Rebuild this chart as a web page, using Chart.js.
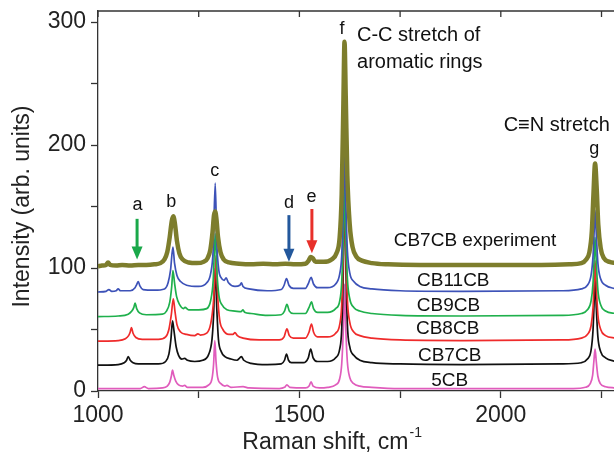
<!DOCTYPE html>
<html>
<head>
<meta charset="utf-8">
<script src="https://cdn.jsdelivr.net/npm/chart.js@4.4.1/dist/chart.umd.min.js"></script>
<style>
  body { margin: 0; background: #fff; }
  #wrap { width: 614px; height: 456px; position: relative; }
</style>
</head>
<body>
<div id="wrap"><canvas id="chart"></canvas></div>
<script>
// Raman spectra, [shift cm-1, intensity] (curves offset by ~20)
const spec5CB = [[1000,2],[1050,2],[1105,2],[1115,3.5],[1125,2],[1160,2.5],[1172,4],[1178,7],[1182,12],[1185,17],[1188,13],[1193,8],[1200,5],[1210,4],[1215,4.5],[1222,3],[1260,3],[1275,5],[1283,10],[1287,22],[1290,41],[1293,24],[1297,11],[1305,6],[1315,4],[1320,4.5],[1330,3],[1360,3.5],[1375,2.5],[1450,2],[1463,3],[1469,5],[1476,3],[1515,2.5],[1524,4],[1529,7.5],[1534,4],[1550,2.5],[1570,3],[1590,5],[1600,10],[1605,22],[1609,50],[1612,87],[1615,52],[1619,24],[1625,11],[1635,6],[1650,4],[1680,3],[1750,2],[2180,2],[2210,3],[2222,6],[2228,13],[2231,24],[2234,34],[2237,24],[2241,12],[2247,6],[2260,3.5],[2285,2.5]];

const specCB7CB = [[1000,21],[1050,21.5],[1065,23],[1071,25],[1075,28],[1080,25],[1087,23],[1100,22],[1150,22],[1168,24],[1176,30],[1181,42],[1185,57],[1189,48],[1194,36],[1200,29],[1208,26],[1215,26.5],[1222,25],[1240,24],[1260,25],[1275,30],[1283,42],[1287,62],[1291,100],[1295,66],[1299,42],[1306,32],[1315,28],[1330,26],[1345,25],[1352,27],[1356,28],[1362,25],[1380,22.5],[1420,21.5],[1455,22],[1463,25],[1468,30],[1473,25],[1480,23],[1510,23],[1522,27],[1528,34],[1534,27],[1545,24],[1570,24],[1590,27],[1600,34],[1605,50],[1609,100],[1612,191],[1615,110],[1619,55],[1625,36],[1635,29],[1650,25],[1680,23],[1750,22],[1900,21.5],[2150,22],[2200,23],[2215,26],[2224,33],[2229,50],[2232,75],[2234,92],[2237,68],[2241,44],[2248,32],[2260,27],[2285,24]];

const specCB8CB = [[1000,40.5],[1050,41],[1068,42.5],[1076,45],[1080,48],[1083,51.5],[1087,47],[1094,43.5],[1110,42],[1150,42],[1168,44],[1176,50],[1182,62],[1187,75],[1191,65],[1196,54],[1205,48],[1220,46],[1240,45],[1248,46.5],[1254,45.5],[1270,47],[1280,55],[1286,70],[1290,90],[1293,110],[1297,78],[1302,58],[1310,50],[1325,46],[1335,46],[1340,47.5],[1346,45],[1360,43],[1400,41.5],[1450,41.5],[1462,44],[1469,50.5],[1475,45],[1485,43],[1515,43],[1524,48],[1530,54.5],[1535,48],[1545,44],[1570,44],[1590,47],[1600,54],[1605,70],[1609,115],[1612,185],[1615,120],[1619,75],[1625,56],[1635,48],[1650,45],[1680,43],[1750,41.5],[1900,41],[2150,41.5],[2200,43],[2215,46],[2224,53],[2229,68],[2232,90],[2234,106],[2237,85],[2241,62],[2248,50],[2260,45],[2285,43]];

const specCB9CB = [[1000,60.5],[1050,61],[1075,62.5],[1084,65],[1089,68],[1092,71.5],[1096,67],[1103,63.5],[1120,62],[1160,62.5],[1170,65],[1178,72],[1183,85],[1186,98],[1190,88],[1195,77],[1203,70],[1212,67],[1216,68],[1225,66],[1250,66],[1270,67],[1280,74],[1286,90],[1291,128],[1295,98],[1300,78],[1308,70],[1320,66],[1340,65],[1355,64.5],[1360,66],[1364,64],[1380,63],[1420,61.5],[1455,62],[1463,65],[1469,70.5],[1475,65],[1485,63],[1515,63],[1524,68],[1530,72.5],[1535,67],[1545,64],[1570,64],[1590,67],[1600,73],[1605,88],[1609,125],[1612,165],[1615,130],[1619,92],[1625,75],[1635,68],[1650,65],[1680,63],[1750,61.5],[1900,61],[2150,61.5],[2200,63],[2215,66],[2224,73],[2229,88],[2232,110],[2234,125],[2237,105],[2241,82],[2248,70],[2260,65],[2285,63]];

const specCB11CB = [[1000,80.5],[1020,81],[1027,82.5],[1034,81],[1045,81.5],[1050,83],[1056,81.5],[1080,81.5],[1092,84],[1096,86.5],[1100,89],[1104,85.5],[1112,82.5],[1140,82],[1165,83],[1174,88],[1180,98],[1186,117],[1190,104],[1196,94],[1205,89],[1220,86],[1250,85],[1270,88],[1280,96],[1286,115],[1291,169],[1295,120],[1300,98],[1306,92],[1313,90],[1318,92],[1324,88],[1340,85],[1352,86],[1356,88],[1360,85],[1375,83],[1420,81.5],[1455,82.5],[1462,86],[1468,91.5],[1474,86],[1485,83.5],[1515,83.5],[1523,88],[1529,92.5],[1535,87],[1545,84],[1570,84],[1590,87],[1600,95],[1605,110],[1609,150],[1612,195],[1615,155],[1619,115],[1625,96],[1635,89],[1650,85],[1680,83],[1750,81.5],[1900,81],[2150,81.5],[2200,83],[2215,86],[2224,94],[2229,110],[2232,132],[2234,147],[2237,128],[2241,104],[2248,91],[2260,86],[2285,83]];

const specExp = [[1000,101.5],[1010,102],[1020,102.5],[1025,104.5],[1030,102.5],[1045,102],[1060,102.5],[1080,102],[1100,102.5],[1120,102.5],[1140,103],[1155,104],[1165,107],[1172,113],[1178,125],[1183,138],[1187,142],[1191,136],[1196,122],[1202,112],[1210,107],[1225,104.5],[1245,104],[1262,105],[1272,108],[1279,115],[1284,128],[1288,143],[1291,146],[1294,140],[1298,125],[1304,113],[1312,107],[1325,104.5],[1350,103.5],[1380,103],[1410,103.5],[1440,103],[1465,103.5],[1490,103],[1515,103.5],[1523,106],[1528,109],[1533,108],[1540,105],[1560,105],[1580,107],[1592,112],[1600,125],[1605,160],[1609,230],[1612,284],[1615,240],[1619,175],[1625,135],[1632,117],[1642,109],[1655,106],[1680,104],[1720,103],[1800,102.5],[1900,102.5],[2000,102.5],[2100,102.5],[2170,103],[2200,104],[2212,107],[2220,113],[2226,130],[2230,160],[2234,185],[2238,165],[2242,135],[2248,116],[2256,108],[2270,105],[2285,104]];

const xTicks = [1000, 1250, 1500, 1750, 2000, 2250];
const xLabels = [1000, 1500, 2000];
const yTicks = [0, 50, 100, 150, 200, 250, 300];
const yLabels = [0, 100, 200, 300];

// series names sit next to their curves: [text, x, y]
const curveNames = [
  ['CB7CB experiment', 1936, 122.5],
  ['CB11CB', 1882, 90],
  ['CB9CB', 1870, 69.5],
  ['CB8CB', 1868, 50.5],
  ['CB7CB', 1873, 29],
  ['5CB', 1873, 8.5]
];
// peak letters: [letter, x, y]
const peakLetters = [
  ['a', 1098, 151], ['b', 1182, 153.5], ['c', 1290, 179],
  ['d', 1474, 152.5], ['e', 1530, 157.5], ['f', 1606, 294.5], ['g', 2232, 197]
];
// arrows: [x, yTop, yTip, colour]
const arrows = [
  [1097, 140, 107, '#1aa84a'],
  [1474, 143, 105, '#23589c'],
  [1531, 148, 112, '#e8302a']
];

const FONT = '"Liberation Sans", Arial, sans-serif';

function toXY(arr) {
  return arr.map(p => ({ x: p[0], y: p[1] }));
}

function makeSet(label, arr, color, width) {
  return {
    label: label,
    data: toXY(arr),
    borderColor: color,
    borderWidth: width,
    pointRadius: 0,
    fill: false,
    cubicInterpolationMode: 'monotone'
  };
}

// text, arrows, top frame and axis titles
const decorPlugin = {
  id: 'decor',
  afterDatasetsDraw(chart) {
    const ctx = chart.ctx;
    const xs = chart.scales.x;
    const ys = chart.scales.y;
    const area = chart.chartArea;
    ctx.save();

    // top frame line with inward ticks
    ctx.strokeStyle = '#333';
    ctx.lineWidth = 1.3;
    ctx.beginPath();
    ctx.moveTo(area.left, area.top);
    ctx.lineTo(area.right, area.top);
    xTicks.forEach(v => {
      const px = xs.getPixelForValue(v);
      ctx.moveTo(px, area.top);
      ctx.lineTo(px, area.top + 6);
    });
    ctx.stroke();

    ctx.fillStyle = '#111';
    ctx.textAlign = 'center';
    ctx.textBaseline = 'middle';

    ctx.font = '19px ' + FONT;
    curveNames.forEach(n => {
      ctx.fillText(n[0], xs.getPixelForValue(n[1]), ys.getPixelForValue(n[2]));
    });

    ctx.font = '18px ' + FONT;
    peakLetters.forEach(l => {
      ctx.fillText(l[0], xs.getPixelForValue(l[1]), ys.getPixelForValue(l[2]));
    });

    ctx.font = '20px ' + FONT;
    ctx.textAlign = 'left';
    ctx.fillText('C-C stretch of', xs.getPixelForValue(1643), ys.getPixelForValue(289));
    ctx.fillText('aromatic rings', xs.getPixelForValue(1643), ys.getPixelForValue(267.5));
    ctx.fillText('C\u2261N stretch', xs.getPixelForValue(2007), ys.getPixelForValue(216));

    arrows.forEach(a => {
      const px = xs.getPixelForValue(a[0]);
      const top = ys.getPixelForValue(a[1]);
      const tip = ys.getPixelForValue(a[2]);
      ctx.strokeStyle = a[3];
      ctx.fillStyle = a[3];
      ctx.lineWidth = 3;
      ctx.beginPath();
      ctx.moveTo(px, top);
      ctx.lineTo(px, tip - 10);
      ctx.stroke();
      ctx.beginPath();
      ctx.moveTo(px - 5.5, tip - 13);
      ctx.lineTo(px + 5.5, tip - 13);
      ctx.lineTo(px, tip);
      ctx.closePath();
      ctx.fill();
    });

    // axis titles
    ctx.fillStyle = '#222';
    ctx.font = '23px ' + FONT;
    const main = 'Raman shift, cm';
    const w1 = ctx.measureText(main).width;
    ctx.font = '14px ' + FONT;
    const w2 = ctx.measureText('-1').width;
    const cx = xs.getPixelForValue(1580);
    const startX = cx - (w1 + w2) / 2;
    const ty = area.bottom + 52;
    ctx.textAlign = 'left';
    ctx.font = '23px ' + FONT;
    ctx.fillText(main, startX, ty);
    ctx.font = '14px ' + FONT;
    ctx.fillText('-1', startX + w1 + 1, ty - 10);

    ctx.translate(area.left - 75, ys.getPixelForValue(150));
    ctx.rotate(-Math.PI / 2);
    ctx.textAlign = 'center';
    ctx.font = '23px ' + FONT;
    ctx.fillText('Intensity (arb. units)', 0, 0);
    ctx.restore();
  }
};

const config = {
  type: 'line',
  data: {
    datasets: [
      makeSet('CB7CB experiment', specExp, '#7d7d2c', 4.5),
      makeSet('CB11CB', specCB11CB, '#3d52b8', 1.7),
      makeSet('CB9CB', specCB9CB, '#1fb04c', 1.7),
      makeSet('CB8CB', specCB8CB, '#ef2b2b', 1.7),
      makeSet('CB7CB', specCB7CB, '#111111', 1.7),
      makeSet('5CB', spec5CB, '#e05cbc', 1.7)
    ]
  },
  options: {
    responsive: true,
    maintainAspectRatio: false,
    animation: false,
    layout: { padding: { top: 11, right: 0, left: 0, bottom: 0 } },
    plugins: { legend: { display: false }, tooltip: { enabled: false } },
    scales: {
      x: {
        type: 'linear',
        min: 1000,
        max: 2281,
        afterBuildTicks: axis => { axis.ticks = xTicks.map(v => ({ value: v })); },
        afterFit: axis => {
          axis.height = 65;
          axis.paddingLeft = 0;
          axis.paddingRight = 0;
        },
        grid: { drawOnChartArea: false, tickLength: 7, tickColor: '#333', tickWidth: 1.3 },
        border: { color: '#333', width: 1.3 },
        ticks: {
          autoSkip: false,
          maxRotation: 0,
          padding: 4,
          color: '#222',
          font: { family: FONT, size: 23 },
          callback: v => xLabels.includes(v) ? String(v) : ''
        }
      },
      y: {
        min: 0,
        max: 309,
        afterBuildTicks: axis => { axis.ticks = yTicks.map(v => ({ value: v })); },
        afterFit: axis => {
          axis.width = 98;
          axis.paddingTop = 0;
          axis.paddingBottom = 0;
        },
        grid: { drawOnChartArea: false, tickLength: 7, tickColor: '#333', tickWidth: 1.3 },
        border: { color: '#333', width: 1.3 },
        ticks: {
          padding: 5,
          color: '#222',
          font: { family: FONT, size: 23 },
          callback: v => yLabels.includes(v) ? String(v) : ''
        }
      }
    }
  },
  plugins: [decorPlugin]
};

const ctx = document.getElementById('chart').getContext('2d');
window.myChart = new Chart(ctx, config);
</script>
</body>
</html>
